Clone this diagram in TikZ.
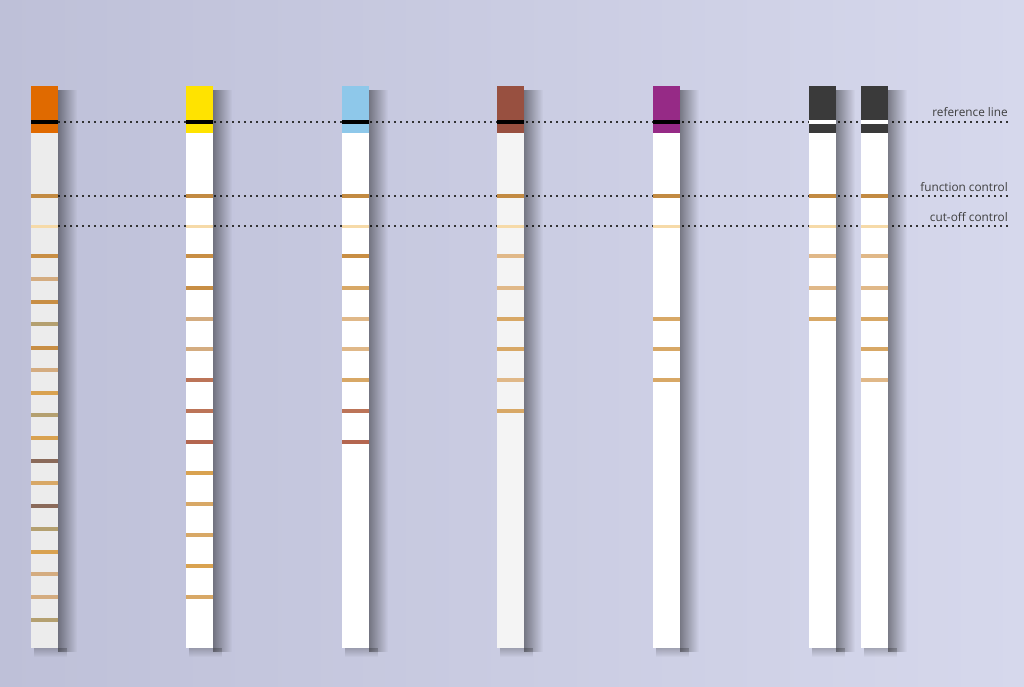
\documentclass[tikz,border=0pt]{standalone}
\usepackage{fontspec}
\setmainfont{Open Sans}
\usetikzlibrary{fadings}
\definecolor{bgleft}{HTML}{BEC0D8}
\definecolor{bgmid}{HTML}{D3D5EA}
\definecolor{bgright}{HTML}{D6D8EC}
\definecolor{capOrange}{HTML}{E06A00}
\definecolor{capYellow}{HTML}{FFE300}
\definecolor{capBlue}{HTML}{8EC8EA}
\definecolor{capBrown}{HTML}{985040}
\definecolor{capPurple}{HTML}{962A86}
\definecolor{capDark}{HTML}{3A3A3A}
\definecolor{stripGrey}{HTML}{ECECEC}
\definecolor{stripPale}{HTML}{F4F4F4}
\definecolor{fnBand}{HTML}{C28A42}
\definecolor{cutBand}{HTML}{F6DAA8}
\definecolor{bOchre}{HTML}{C88E44}
\definecolor{bTan}{HTML}{D4AC80}
\definecolor{bOlive}{HTML}{B4A070}
\definecolor{bGold}{HTML}{D9A250}
\definecolor{bMauve}{HTML}{8A6A5A}
\definecolor{bSand}{HTML}{D8A866}
\definecolor{bRed}{HTML}{BC7458}
\definecolor{bRust}{HTML}{B46650}
\definecolor{bLight}{HTML}{E0B888}
\definecolor{labelGrey}{HTML}{3E3E3E}
\tikzfading[name=fadeside, left color=transparent!0, right color=transparent!100]
\tikzfading[name=fadefoot, top color=transparent!0, bottom color=transparent!100]
\tikzset{
  sideshadow/.style={fill=black, fill opacity=0.42, path fading=fadeside},
  footshadow/.style={fill=black, fill opacity=0.22, path fading=fadefoot},
  band/.style={line width=3.8pt},
  guide/.style={line width=1.5pt, dash pattern=on 1.5pt off 4.5pt, black!80},
  caption/.style={anchor=base east, inner sep=0pt, text=labelGrey, font=\fontsize{11.8}{13}\selectfont}
}
\begin{document}
\begin{tikzpicture}[x=1pt, y=-1pt, line join=round, line cap=butt]
\useasboundingbox (0,0) rectangle (1024,687);
\shade[left color=bgleft, middle color=bgmid, right color=bgright] (0,0) rectangle (1024,687);
% dotted guide lines and their labels
\path
(58,122) coordinate (refL) (1008,122) coordinate (refR)
(58,196) coordinate (fnL) (1008,196) coordinate (fnR)
(58,226) coordinate (cutL) (1008,226) coordinate (cutR);
\draw[guide] (refL)--(refR) (fnL)--(fnR) (cutL)--(cutR);
\node[caption] (reflabel) at ([yshift=5pt]refR) {reference line};
\node[caption] (fnlabel) at ([yshift=5pt]fnR) {function control};
\node[caption] (cutlabel) at ([yshift=5pt]cutR) {cut-off control};
% test strips
\foreach \s/\xl/\cap/\body/\refc in {a/31/capOrange/stripGrey/black, b/186/capYellow/white/black,
  c/342/capBlue/white/black, d/497/capBrown/stripPale/black, e/653/capPurple/white/black,
  f/809/capDark/white/white, g/861/capDark/white/white}{
  \fill[sideshadow] (\xl+27,90) rectangle (\xl+46,652);
  \fill[footshadow] (\xl+3,648) rectangle (\xl+36,657);
  \path (\xl,86) coordinate (\s-top) (\xl+27,648) coordinate (\s-bot);
  \fill[\cap] (\s-top) rectangle (\xl+27,133);
  \fill[\body] (\xl,133) rectangle (\s-bot);
  \draw[band, \refc, line width=3.5pt] (\xl,122) -- ++(27,0);
  \draw[band, fnBand] (\xl,196) -- ++(27,0);
  \draw[band, cutBand, line width=3pt] (\xl,226) -- ++(27,0);
}
% colour pads
\foreach \y/\c in {256/bOchre, 279/bTan, 302/bOchre, 324/bOlive, 348/bOchre, 370/bTan, 393/bGold,
  415/bOlive, 438/bGold, 461/bMauve, 483/bSand, 506/bMauve, 529/bOlive, 552/bGold, 574/bTan,
  597/bTan, 620/bOlive}
  \draw[band, \c] (31,\y) -- ++(27,0);
\foreach \y/\c in {256/bOchre, 288/bOchre, 319/bTan, 349/bTan, 380/bRed, 411/bRed, 442/bRust,
  473/bGold, 504/bSand, 535/bSand, 566/bGold, 597/bSand}
  \draw[band, \c] (186,\y) -- ++(27,0);
\foreach \y/\c in {256/bOchre, 288/bSand, 319/bLight, 349/bLight, 380/bSand, 411/bRed, 442/bRust}
  \draw[band, \c] (342,\y) -- ++(27,0);
\foreach \y/\c in {256/bLight, 288/bLight, 319/bSand, 349/bSand, 380/bLight, 411/bSand}
  \draw[band, \c] (497,\y) -- ++(27,0);
\foreach \y/\c in {319/bSand, 349/bSand, 380/bSand}
  \draw[band, \c] (653,\y) -- ++(27,0);
\foreach \y/\c in {256/bLight, 288/bLight, 319/bSand}
  \draw[band, \c] (809,\y) -- ++(27,0);
\foreach \y/\c in {256/bLight, 288/bLight, 319/bSand, 349/bSand, 380/bLight}
  \draw[band, \c] (861,\y) -- ++(27,0);
\end{tikzpicture}
\end{document}
